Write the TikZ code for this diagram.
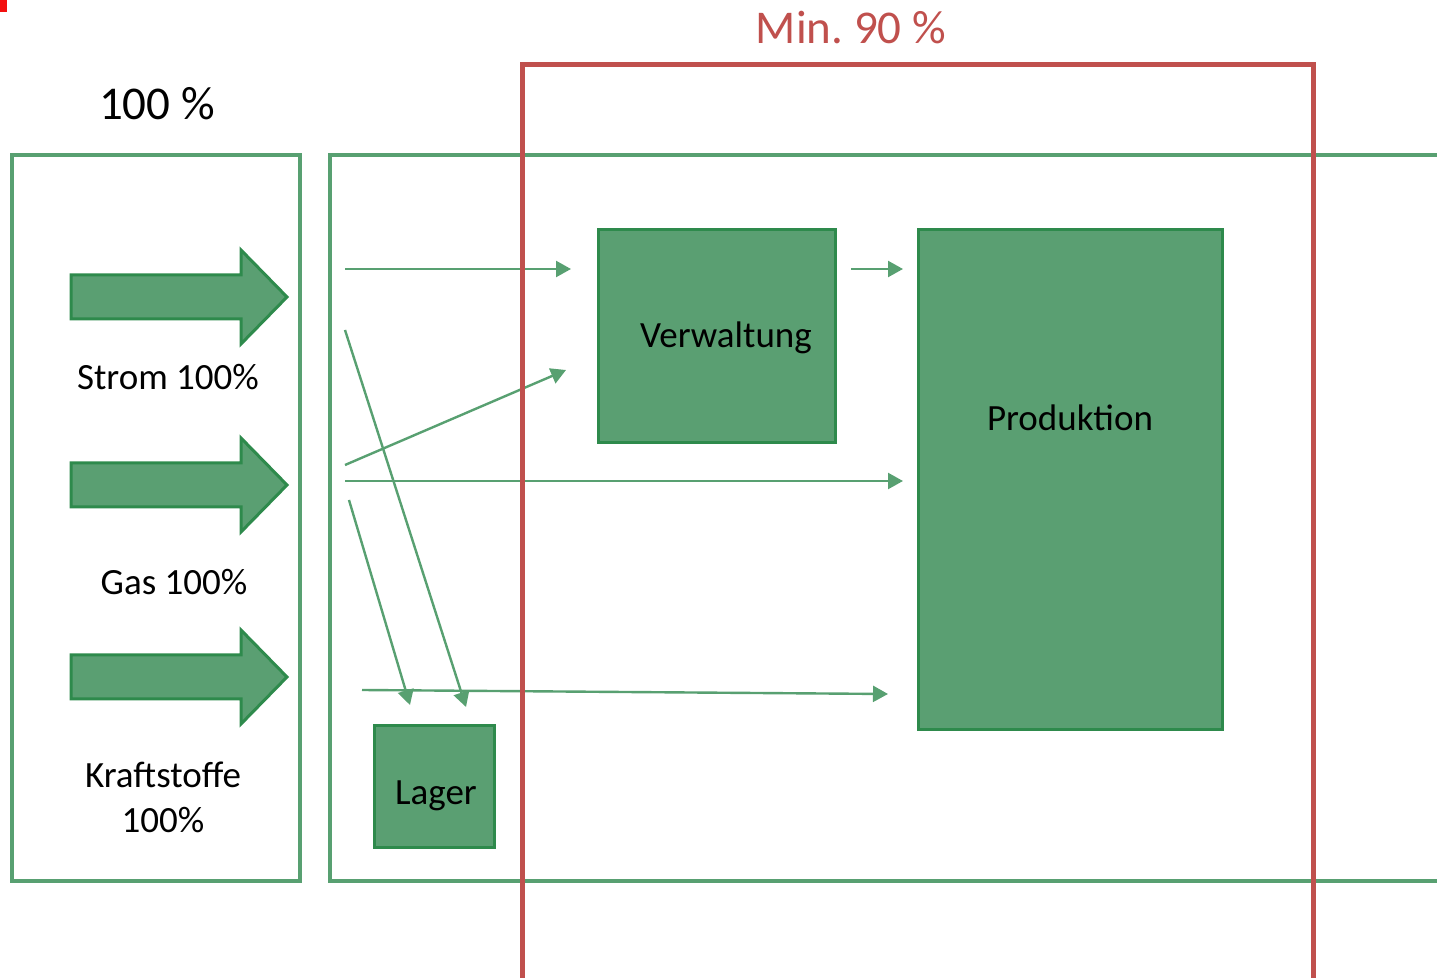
\documentclass[tikz,border=0pt]{standalone}
\usepackage{fontspec}
\setmainfont{Carlito}
\usetikzlibrary{arrows.meta}
\definecolor{boxgreen}{RGB}{90,159,114}
\definecolor{darkgreen}{RGB}{46,138,76}
\definecolor{framegreen}{RGB}{88,160,113}
\definecolor{markred}{RGB}{192,80,77}
\tikzset{>={Triangle[length=7.5pt,width=8pt]}}

\begin{document}
\begin{tikzpicture}[x=0.5pt,y=-0.5pt]
    % px coordinates, y pointing down
    \tikzstyle{frame}=[framegreen, line width=2pt]
    \tikzstyle{area}=[rectangle, draw=darkgreen, fill=boxgreen, line width=1.5pt, inner sep=0pt]
    \tikzstyle{flow}=[->, framegreen, line width=1.2pt]
    \tikzstyle{fat}=[draw=darkgreen, fill=boxgreen, line width=1.5pt, line join=miter]
    \tikzstyle{every node}=[font=\fontsize{18.5}{22.5}\selectfont]

    \useasboundingbox (0,0) rectangle (1437,978);
    \fill[red!80!markred] (0,0) rectangle (7,12);

    % frames
    \draw[frame] (12,155) rectangle (300,881);
    \draw[frame] (1445,155) -- (330,155) -- (330,881) -- (1445,881);

    % fat arrows
    \foreach \y in {297,485,677}
        \draw[fat] (71,\y-22) -- (241,\y-22) -- (241,\y-47) -- (287,\y)
            -- (241,\y+47) -- (241,\y+22) -- (71,\y+22) -- cycle;

    \node (total) [font=\fontsize{23.5}{28}\selectfont] at (157,104) {100 \%};
    \node (strom) at (168,377) {Strom 100\%};
    \node (gas) at (174,582) {Gas 100\%};
    \node (kraft) [align=center] at (163,797) {Kraftstoffe\\100\%};

    % areas
    \node (verw) [area, minimum width=118.5pt, minimum height=106.5pt] at (716.5,336.5) {};
    \node (prod) [area, minimum width=152pt, minimum height=250pt] at (1070,480) {};
    \node (lager) [area, minimum width=60pt, minimum height=61pt] at (434,787) {};
    \node (verwtext) at (726,338) {Verwaltung};
    \node (prodtext) at (1070,418) {Produktion};
    \node (lagertext) at (436,796) {Lager};

    % flows
    \coordinate (a1) at (345,269);  \coordinate (b1) at (571,269);
    \coordinate (a2) at (345,465);  \coordinate (b2) at (566,370);
    \coordinate (a3) at (345,481);  \coordinate (b3) at (903,481);
    \coordinate (a4) at (345,330);  \coordinate (b4) at (466,707);
    \coordinate (a5) at (349,500);  \coordinate (b5) at (410,705);
    \coordinate (a6) at (362,690);  \coordinate (b6) at (888,694);
    \coordinate (a7) at (851,269);  \coordinate (b7) at (903,269);
    \foreach \i in {1,...,7}
        \draw[flow] (a\i) -- (b\i);

    % 90 % frame on top
    \draw[markred, line width=2.5pt] (522,990) -- (522,65) -- (1313,65) -- (1313,990);
    \node (min) [markred, font=\fontsize{23.5}{28}\selectfont] at (851,28) {Min.\ 90 \%};
\end{tikzpicture}
\end{document}
